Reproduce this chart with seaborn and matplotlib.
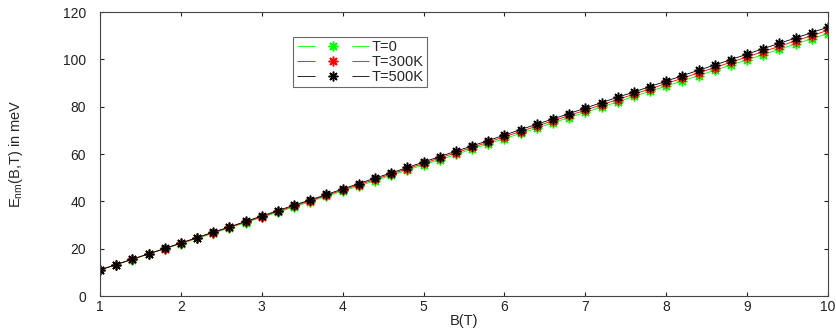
import matplotlib
matplotlib.use("Agg")
import matplotlib.pyplot as plt
from matplotlib.lines import Line2D
import seaborn as sns
import pandas as pd

B = [1.0, 1.2, 1.4, 1.6, 1.8, 2.0, 2.2, 2.4, 2.6, 2.8,
     3.0, 3.2, 3.4, 3.6, 3.8, 4.0, 4.2, 4.4, 4.6, 4.8,
     5.0, 5.2, 5.4, 5.6, 5.8, 6.0, 6.2, 6.4, 6.6, 6.8,
     7.0, 7.2, 7.4, 7.6, 7.8, 8.0, 8.2, 8.4, 8.6, 8.8,
     9.0, 9.2, 9.4, 9.6, 9.8, 10.0]

E_T0 = [11.0, 13.2, 15.4, 17.7, 19.9, 22.1, 24.3, 26.5, 28.8, 31.0,
        33.2, 35.4, 37.6, 39.9, 42.1, 44.3, 46.5, 48.7, 51.0, 53.2,
        55.4, 57.6, 59.8, 62.1, 64.3, 66.5, 68.7, 70.9, 73.2, 75.4,
        77.6, 79.8, 82.0, 84.3, 86.5, 88.7, 90.9, 93.1, 95.4, 97.6,
        99.8, 102.0, 104.2, 106.5, 108.7, 110.9]

E_T300 = [11.0, 13.3, 15.5, 17.8, 20.0, 22.3, 24.5, 26.8, 29.0, 31.3,
          33.5, 35.8, 38.0, 40.3, 42.5, 44.8, 47.0, 49.3, 51.5, 53.8,
          56.0, 58.3, 60.5, 62.8, 65.0, 67.3, 69.5, 71.8, 74.0, 76.3,
          78.5, 80.8, 83.0, 85.3, 87.5, 89.8, 92.0, 94.3, 96.5, 98.8,
          101.0, 103.3, 105.5, 107.8, 110.0, 112.3]

E_T500 = [11.0, 13.3, 15.6, 17.8, 20.1, 22.4, 24.7, 27.0, 29.2, 31.5,
          33.8, 36.1, 38.4, 40.6, 42.9, 45.2, 47.5, 49.8, 52.0, 54.3,
          56.6, 58.9, 61.2, 63.4, 65.7, 68.0, 70.3, 72.6, 74.8, 77.1,
          79.4, 81.7, 84.0, 86.2, 88.5, 90.8, 93.1, 95.4, 97.6, 99.9,
          102.2, 104.5, 106.8, 109.0, 111.3, 113.6]

labels = ["T=0", "T=300K", "T=500K"]
colors = ["#00ff00", "#ff0000", "#000000"]
series = [E_T0, E_T300, E_T500]

xticks = [1, 2, 3, 4, 5, 6, 7, 8, 9, 10]
yticks = [0, 20, 40, 60, 80, 100, 120]

sns.set_style("ticks")
plt.rcParams["font.family"] = ["Liberation Sans", "DejaVu Sans"]
plt.rcParams["mathtext.fontset"] = "custom"
plt.rcParams["mathtext.rm"] = "Liberation Sans"
plt.rcParams["xtick.direction"] = "in"
plt.rcParams["ytick.direction"] = "in"
plt.rcParams["xtick.top"] = True
plt.rcParams["ytick.right"] = True

fig = plt.figure(figsize=(8.37, 3.32), dpi=100)
ax = fig.add_axes([100 / 837, 1 - 296 / 332, 728 / 837, 284 / 332])

marker = (8, 2, 0)
lw = 0.6
for lab, col, vals in zip(labels, colors, series):
    df = pd.DataFrame({"B": B, "E": vals})
    sns.lineplot(data=df, x="B", y="E", ax=ax, color=col, legend=False,
                 marker=marker, markersize=7, markeredgewidth=1.1,
                 markeredgecolor=col, linewidth=lw, sort=False,
                 errorbar=None)

ax.set_xlim(1, 10)
ax.set_ylim(0, 120)
ax.set_xticks(xticks)
ax.set_yticks(yticks)
ax.tick_params(axis="both", labelsize=10, length=3, width=0.8,
               colors="#222222")
ax.tick_params(axis="y", pad=10)
ax.tick_params(axis="x", pad=3)
for sp in ax.spines.values():
    sp.set_color("#444444")
    sp.set_linewidth(0.8)

ax.set_xlabel("B(T)", fontsize=10.5, labelpad=0)
ax.set_ylabel(r"E$_{\mathrm{nm}}$(B,T) in meV", fontsize=10.5)
ax.yaxis.set_label_coords(-0.103, 0.5)

handles = [Line2D([], [], color=c, linewidth=lw,
                  linestyle=(0, (13 / lw, 26.6 / lw)),
                  marker=marker, markersize=7, markeredgewidth=1.1,
                  markeredgecolor=c)
           for c in colors]
leg = ax.legend(handles, labels, loc="upper left",
                bbox_to_anchor=(0.265, 0.913), fontsize=10.5,
                frameon=True, fancybox=False, handlelength=5.0,
                handletextpad=0.15, borderpad=0.25, labelspacing=0.05,
                borderaxespad=0.0, numpoints=1)
leg.get_frame().set_edgecolor("#444444")
leg.get_frame().set_linewidth(0.8)

fig.savefig("out.png", dpi=100)
